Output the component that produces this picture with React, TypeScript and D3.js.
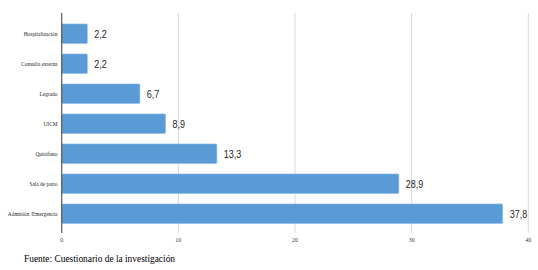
import React from "react";
import * as d3 from "d3";

const categories = [
  "Hospitalización",
  "Consulta externa",
  "Legrado",
  "UICM",
  "Quirófano",
  "Sala de parto",
  "Admisión /Emergencia",
];
const values = [2.2, 2.2, 6.7, 8.9, 13.3, 28.9, 37.8];
const ticks = [0, 10, 20, 30, 40];
const source = "Fuente: Cuestionario de la investigación";

const W = 538;
const H = 270;
const SERIF = "Liberation Serif, DejaVu Serif, serif";
const SANS = "Liberation Sans, Arial, sans-serif";

export default function App() {
  const x = d3.scaleLinear().domain([0, 40]).range([61.7, 528.3]);
  const y = d3.scaleBand<string>().domain(categories).range([18.7, 228.7]).paddingInner(0.35).paddingOuter(0.175);
  const fmt = (v: number) => v.toFixed(1).replace(".", ",");
  return (
    <div style={{ position: "absolute", left: 0, top: 0, width: W, height: H, background: "#fff" }}>
      <svg width={W} height={H} style={{ display: "block" }}>
        {ticks.slice(1).map((t) => (
          <line key={t} x1={x(t)} x2={x(t)} y1={13} y2={233} stroke="#d9d9d9" strokeWidth={1} />
        ))}
        {categories.map((c, i) => {
          const lx = x(values[i]) + 7;
          const cy = y(c)! + y.bandwidth() / 2;
          return (
            <g key={c}>
              <rect
                x={x(0)}
                y={y(c)!}
                width={x(values[i]) - x(0)}
                height={y.bandwidth()}
                fill="#5b9bd5"
                stroke="#8ab8e6"
                strokeWidth={0.6}
                rx={1}
              />
              <text
                x={lx}
                y={cy}
                dy="0.35em"
                style={{ fontFamily: SANS, fontSize: 11 }}
                fill="#262626"
                transform={`translate(${lx},0) scale(0.82,1) translate(${-lx},0)`}
              >
                {fmt(values[i])}
              </text>
              <text
                x={57.5}
                y={cy}
                dy="0.35em"
                textAnchor="end"
                style={{ fontFamily: SERIF, fontSize: 7 }}
                fill="#262626"
                transform={`translate(57.5,0) scale(0.77,1) translate(-57.5,0)`}
              >
                {c}
              </text>
            </g>
          );
        })}
        <line x1={x(0)} x2={x(0)} y1={13} y2={233} stroke="#595959" strokeWidth={1.2} />
        {ticks.map((t) => (
          <text
            key={t}
            x={x(t)}
            y={240}
            dy="0.35em"
            textAnchor="middle"
            style={{ fontFamily: SERIF, fontSize: 6 }}
            fill="#404040"
          >
            {t}
          </text>
        ))}
        <text x={24} y={261.5} style={{ fontFamily: SERIF, fontSize: 9.4 }} fill="#000">
          {source}
        </text>
      </svg>
    </div>
  );
}
